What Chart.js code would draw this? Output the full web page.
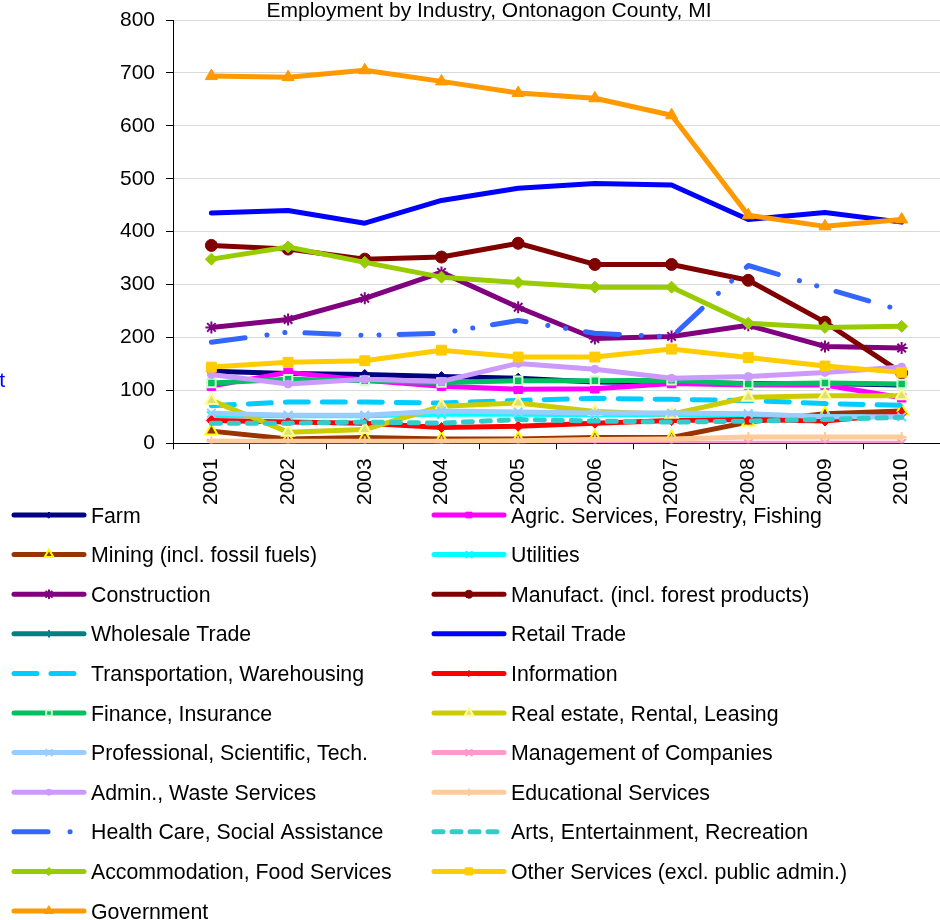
<!DOCTYPE html>
<html>
<head>
<meta charset="utf-8">
<script src="https://cdn.jsdelivr.net/npm/chart.js@4/dist/chart.umd.min.js"></script>
<style>
body { margin: 0; background: #fff; }
#wrap { width: 940px; height: 920px; }
</style>
</head>
<body>
<div id="wrap"><canvas id="myChart" width="940" height="920"></canvas></div>
<script>
var years = ['2001', '2002', '2003', '2004', '2005', '2006', '2007', '2008', '2009', '2010']
var yTicks = [0, 100, 200, 300, 400, 500, 600, 700, 800]

var farm          = [136, 132, 130, 126, 123, 116, 115, 113, 113, 110]
var agric         = [108, 134, 119, 108, 102, 103, 113, 110, 110, 86]
var mining        = [23, 8, 11, 8, 8, 11, 11, 40, 56, 61]
var utilities     = [52, 52, 52, 55, 55, 54, 54, 54, 50, 50]
var construction  = [219, 234, 274, 323, 257, 198, 202, 223, 183, 180]
var manufact      = [374, 367, 348, 352, 378, 338, 338, 308, 229, 133]
var wholesale     = [null, null, null, null, null, null, null, null, null, null]
var retail        = [435, 440, 416, 459, 482, 491, 488, 423, 436, 418]
var transport     = [71, 78, 78, 76, 81, 85, 83, 81, 75, 72]
var information   = [43, 40, 38, 30, 32, 38, 43, 45, 42, 56]
var finance       = [114, 121, 118, 115, 118, 118, 119, 112, 114, 112]
var realEstate    = [81, 21, 26, 70, 76, 60, 55, 87, 90, 90]
var professional  = [57, 53, 53, 61, 59, 57, 57, 56, 50, 50]
var management    = [0, 0, 0, 0, 0, 0, 0, 0, 0, 0]
var admin         = [130, 112, 121, 117, 151, 140, 123, 126, 134, 144]
var educational   = [4, 4, 4, 4, 5, 7, 8, 12, 12, 12]
var health        = [191, 210, 204, 208, 232, 208, 201, 336, 293, 251]
var arts          = [38, 38, 40, 38, 45, 42, 40, 42, 45, 49]
var accommodation = [348, 371, 342, 314, 304, 295, 295, 227, 219, 221]
var otherServices = [144, 153, 156, 176, 163, 163, 178, 162, 146, 134]
var government    = [694, 692, 705, 684, 662, 652, 620, 431, 410, 423]

var FONT = "'Liberation Sans', Arial, sans-serif"

function series(label, data, color, extra) {
    var ds = {
        label: label,
        data: data,
        borderColor: color,
        backgroundColor: color,
        borderWidth: 5,
        borderCapStyle: 'round',
        borderJoinStyle: 'round',
        pointStyle: false,
        pointRadius: 0,
        pointBorderColor: color,
        pointBackgroundColor: color,
        pointBorderWidth: 1,
        tension: 0
    }
    for (var k in extra) ds[k] = extra[k]
    return ds
}

var datasets = [
    series('Farm', farm, '#000080', {pointStyle: 'rectRot', pointRadius: 5}),
    series('Agric. Services, Forestry, Fishing', agric, '#FF00FF', {pointStyle: 'rect', pointRadius: 6}),
    series('Mining (incl. fossil fuels)', mining, '#993300', {pointStyle: 'triangle', pointRadius: 7, pointBorderColor: '#FFFF00', pointBorderWidth: 2}),
    series('Utilities', utilities, '#00FFFF', {pointStyle: 'crossRot', pointRadius: 6, pointBorderWidth: 2}),
    series('Construction', construction, '#800080', {pointStyle: 'star', pointRadius: 6, pointBorderWidth: 2}),
    series('Manufact. (incl. forest products)', manufact, '#800000', {pointStyle: 'circle', pointRadius: 6}),
    series('Wholesale Trade', wholesale, '#008080', {pointStyle: 'cross', pointRadius: 5, pointBorderWidth: 2}),
    series('Retail Trade', retail, '#0000FF', {}),
    series('Transportation, Warehousing', transport, '#00CCFF', {borderDash: [23, 14]}),
    series('Information', information, '#FF0000', {pointStyle: 'rectRot', pointRadius: 5}),
    series('Finance, Insurance', finance, '#00C060', {pointStyle: 'rect', pointRadius: 6, pointBorderColor: '#CCFFCC', pointBorderWidth: 2}),
    series('Real estate, Rental, Leasing', realEstate, '#CCCC00', {pointStyle: 'triangle', pointRadius: 7, pointBorderColor: '#FFFF99', pointBackgroundColor: '#E0E070', pointBorderWidth: 2}),
    series('Professional, Scientific, Tech.', professional, '#99CCFF', {pointStyle: 'crossRot', pointRadius: 6, pointBorderWidth: 2}),
    series('Management of Companies', management, '#FF99CC', {pointStyle: 'crossRot', pointRadius: 6, pointBorderWidth: 2}),
    series('Admin., Waste Services', admin, '#CC99FF', {pointStyle: 'circle', pointRadius: 4}),
    series('Educational Services', educational, '#FFCC99', {pointStyle: 'cross', pointRadius: 5, pointBorderWidth: 2}),
    series('Health Care, Social Assistance', health, '#3366FF', {borderDash: [34, 22, 0.1, 18, 0.1, 20]}),
    series('Arts, Entertainment, Recreation', arts, '#33CCCC', {borderDash: [9, 9]}),
    series('Accommodation, Food Services', accommodation, '#99CC00', {pointStyle: 'rectRot', pointRadius: 6}),
    series('Other Services (excl. public admin.)', otherServices, '#FFCC00', {pointStyle: 'rect', pointRadius: 7}),
    series('Government', government, '#FF9900', {pointStyle: 'triangle', pointRadius: 7})
]
// later series on top, like the spreadsheet
datasets.forEach(function(ds, i) { ds.order = datasets.length - i })

var extras = {
    id: 'extras',
    afterDraw: function(chart) {
        var ctx = chart.ctx
        ctx.save()
        ctx.fillStyle = '#000'
        ctx.font = '21px ' + FONT
        ctx.textAlign = 'center'
        ctx.textBaseline = 'alphabetic'
        ctx.fillText('Employment by Industry, Ontonagon County, MI', 489, 17)

        ctx.fillStyle = '#0000FF'
        ctx.textAlign = 'right'
        ctx.fillText('t', 5, 387)

        // two column legend
        ctx.font = '21.3px ' + FONT
        chart.data.datasets.forEach(function(ds, i) {
            var col = i % 2
            var row = Math.floor(i / 2)
            var y = 515 + row * 39.6
            var x0 = col ? 434 : 14
            ctx.save()
            ctx.strokeStyle = ds.borderColor
            ctx.lineWidth = 5
            ctx.lineCap = 'round'
            ctx.setLineDash(ds.borderDash || [])
            ctx.beginPath()
            ctx.moveTo(x0, y)
            ctx.lineTo(x0 + 70, y)
            ctx.stroke()
            ctx.setLineDash([])
            if (ds.pointStyle) {
                ctx.fillStyle = ds.pointBackgroundColor
                ctx.strokeStyle = ds.pointBorderColor
                ctx.lineWidth = ds.pointBorderWidth
                Chart.helpers.drawPoint(ctx, {
                    pointStyle: ds.pointStyle,
                    radius: Math.max(ds.pointRadius - 2, 3),
                    rotation: 0,
                    borderWidth: ds.pointBorderWidth
                }, x0 + 35, y)
            }
            ctx.restore()
            ctx.fillStyle = '#000'
            ctx.textAlign = 'left'
            ctx.fillText(ds.label, x0 + 77, y + 7.5)
        })
        ctx.restore()
    }
}

var myChart = new Chart(document.getElementById('myChart').getContext('2d'), {
    type: 'line',
    data: {
        labels: years,
        datasets: datasets
    },
    options: {
        responsive: false,
        animation: false,
        layout: {
            autoPadding: false,
            padding: {left: 109, top: 20, right: 0, bottom: 406}
        },
        plugins: {
            legend: {display: false},
            title: {display: false},
            tooltip: {enabled: false}
        },
        scales: {
            x: {
                offset: true,
                afterFit: function(scale) {
                    scale.paddingRight = 0
                    scale.paddingLeft = 0
                },
                grid: {
                    offset: true,
                    drawOnChartArea: false,
                    drawTicks: true,
                    tickLength: 6,
                    tickColor: '#000'
                },
                border: {color: '#000', width: 1},
                ticks: {
                    color: '#000',
                    font: {family: FONT, size: 21},
                    maxRotation: 90,
                    minRotation: 90,
                    padding: 9
                }
            },
            y: {
                min: 0,
                max: 800,
                afterBuildTicks: function(axis) {
                    axis.ticks = yTicks.map(function(v) { return {value: v} })
                },
                afterFit: function(scale) {
                    scale.paddingTop = 0
                },
                grid: {
                    color: '#D9D9D9',
                    lineWidth: 1,
                    tickLength: 7,
                    tickColor: '#000'
                },
                border: {color: '#000', width: 1},
                ticks: {
                    color: '#000',
                    font: {family: FONT, size: 21},
                    padding: 11
                }
            }
        }
    },
    plugins: [extras]
})
</script>
</body>
</html>
